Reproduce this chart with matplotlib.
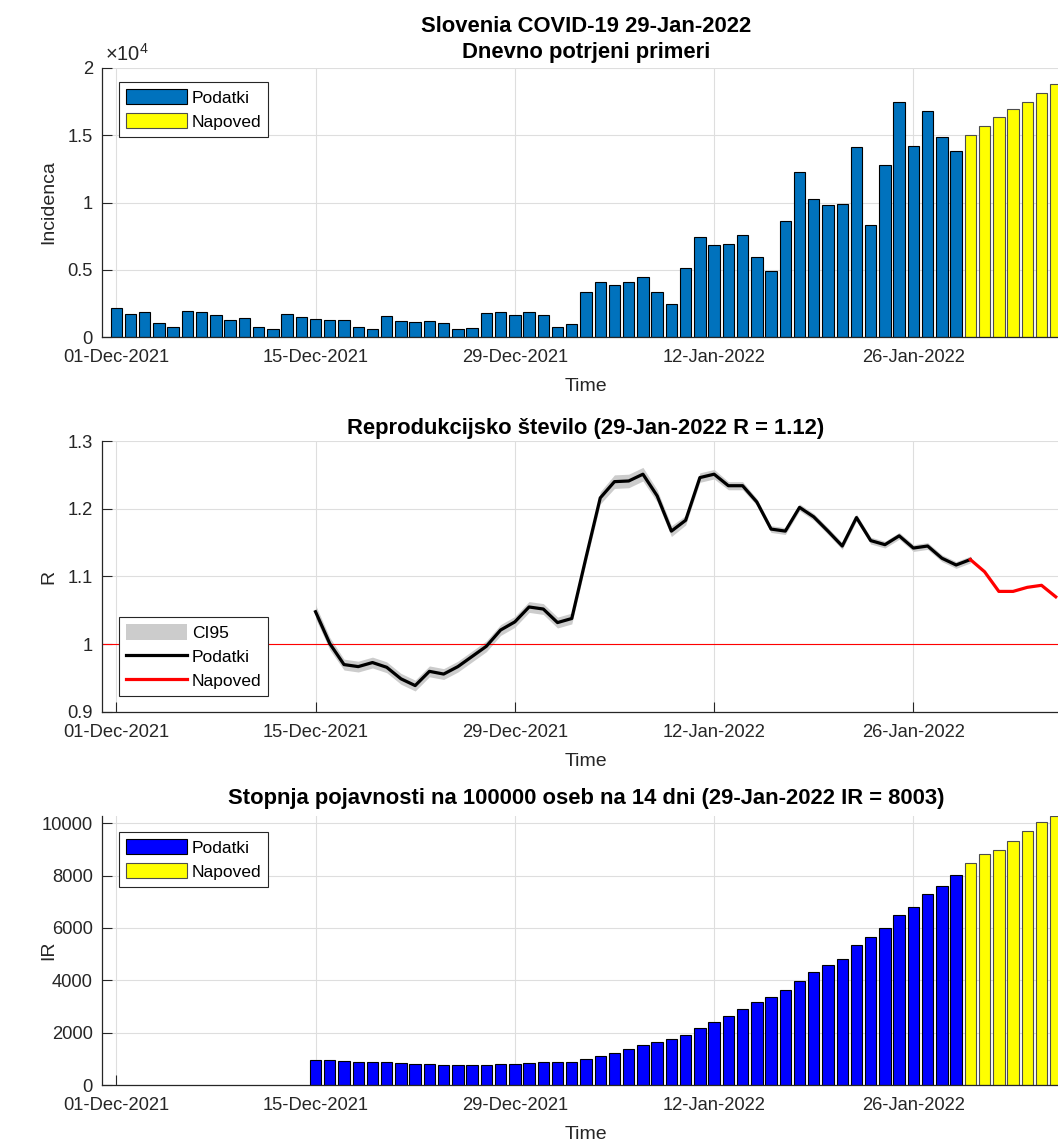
import numpy as np
import matplotlib
matplotlib.use("Agg")
import matplotlib.pyplot as plt
import matplotlib.dates as mdates
from matplotlib.patches import Patch
from matplotlib.lines import Line2D
from matplotlib.ticker import FuncFormatter, FixedLocator

plt.rcParams['font.family'] = ['Liberation Sans', 'DejaVu Sans']
plt.rcParams['mathtext.fontset'] = 'custom'
plt.rcParams['mathtext.rm'] = 'Liberation Sans'

# ---------------- data ----------------
inc_start = '2021-12-01'
inc_data = [2160, 1710, 1860, 1040, 770, 1930, 1860, 1640, 1260, 1410,
            770, 620, 1710, 1490, 1340, 1260, 1260, 770, 570, 1560,
            1190, 1120, 1190, 1040, 620, 690, 1780, 1860, 1640, 1860,
            1640, 770, 970, 3350, 4060, 3840, 4060, 4490, 3350, 2480,
            5130, 7410, 6840, 6910, 7560, 5970, 4910, 8620, 12240, 10260,
            9840, 9910, 14130, 8350, 12760, 17470, 14200, 16830, 14840, 13850]
inc_fore_start = '2022-01-30'
inc_fore = [15040, 15690, 16330, 16930, 17470, 18120, 18840]

r_start = '2021-12-15'
r_data = [1.048, 1.001, 0.970, 0.967, 0.973, 0.966, 0.949, 0.939, 0.960, 0.956,
          0.967, 0.982, 0.997, 1.021, 1.033, 1.055, 1.052, 1.032, 1.038, 1.128,
          1.216, 1.240, 1.241, 1.251, 1.219, 1.167, 1.183, 1.246, 1.251, 1.234,
          1.234, 1.210, 1.170, 1.167, 1.202, 1.188, 1.167, 1.145, 1.187, 1.153,
          1.147, 1.160, 1.142, 1.145, 1.127, 1.117, 1.125]
r_ci_half = [0.010, 0.009, 0.008, 0.008, 0.008, 0.008,
             0.008, 0.008, 0.008, 0.008, 0.008, 0.008, 0.008, 0.008, 0.008, 0.008, 0.008, 0.008, 0.008,
             0.008, 0.009, 0.010, 0.010, 0.010, 0.009,
             0.008, 0.007, 0.007, 0.007, 0.006, 0.006,
             0.005, 0.005, 0.005, 0.005, 0.005, 0.005, 0.005, 0.005,
             0.005, 0.005, 0.005, 0.005, 0.005, 0.005, 0.005, 0.005]
r_fore_start = '2022-01-30'
r_fore = [1.125, 1.107, 1.078, 1.078, 1.084, 1.087, 1.070]

ir_start = '2021-12-15'
ir_data = [952, 952, 902, 863, 863, 863, 825, 800, 800, 762,
           762, 762, 762, 800, 800, 838, 876, 876, 870, 990,
           1092, 1232, 1359, 1537, 1638, 1752, 1905, 2159, 2413, 2629,
           2921, 3187, 3365, 3619, 3987, 4317, 4571, 4825, 5333, 5638,
           5994, 6476, 6794, 7276, 7606, 8003]
ir_fore_start = '2022-01-30'
ir_fore = [8483, 8813, 8990, 9321, 9689, 10057, 10273]

xtick_dates = ['2021-12-01', '2021-12-15', '2021-12-29', '2022-01-12', '2022-01-26']
x_lim = ['2021-11-30', '2022-02-06']

title_top = 'Slovenia COVID-19 29-Jan-2022\nDnevno potrjeni primeri'
title_r = 'Reprodukcijsko število (29-Jan-2022 R = 1.12)'
title_ir = 'Stopnja pojavnosti na 100000 oseb na 14 dni (29-Jan-2022 IR = 8003)'


def days(start, n):
    return np.datetime64(start) + np.arange(n).astype('timedelta64[D]')


# ---------------- figure ----------------
W, H = 1058, 1144
fig = plt.figure(figsize=(W / 100, H / 100), dpi=100)

axL, axR = 102, 1070


def make_ax(top, bottom):
    return fig.add_axes([axL / W, 1 - bottom / H, (axR - axL) / W, (bottom - top) / H])


ax1 = make_ax(68, 337)
ax2 = make_ax(441, 712)
ax3 = make_ax(816, 1085)

DARK = '0.15'
TICK_FS = 13.2
LAB_FS = 14
TITLE_FS = 15.8
LEG_FS = 12.5
MBLUE = (0, 0.447, 0.741)


def style(ax):
    for s in ['top', 'right']:
        ax.spines[s].set_visible(False)
    for s in ['left', 'bottom']:
        ax.spines[s].set_color(DARK)
        ax.spines[s].set_linewidth(0.9)
    ax.tick_params(direction='in', length=7, width=0.8, colors=DARK,
                   labelsize=TICK_FS, labelcolor=DARK)
    ax.tick_params(axis='x', pad=8.5)
    ax.tick_params(axis='y', pad=6.5)
    ax.grid(True, color='#dedede', linewidth=0.8)
    ax.set_axisbelow(True)
    ax.set_xlim(np.datetime64(x_lim[0]), np.datetime64(x_lim[1]))
    ax.xaxis.set_major_locator(FixedLocator(mdates.date2num(np.array(xtick_dates, dtype='datetime64[D]'))))
    ax.xaxis.set_major_formatter(mdates.DateFormatter('%d-%b-%Y'))
    ax.set_xlabel('Time', fontsize=LAB_FS, color=DARK, labelpad=9)
    ax.yaxis.set_label_coords(-0.046, 0.5)


def legend(ax, handles, labels, loc, anchor):
    lg = ax.legend(handles, labels, loc=loc, bbox_to_anchor=anchor, borderaxespad=0,
                   fontsize=LEG_FS, handlelength=3.5, handleheight=1.0, handletextpad=0.3,
                   labelspacing=0.42, borderpad=0.4, fancybox=False, framealpha=1)
    lg.get_frame().set_edgecolor(DARK)
    lg.get_frame().set_linewidth(0.8)
    return lg


# --- top: daily incidence
style(ax1)
ax1.bar(days(inc_start, len(inc_data)), inc_data, width=0.8, color=MBLUE,
        edgecolor='black', linewidth=0.8, label='Podatki')
ax1.bar(days(inc_fore_start, len(inc_fore)), inc_fore, width=0.8, color='yellow',
        edgecolor='0.3', linewidth=0.8, label='Napoved')
ax1.set_ylim(0, 20000)
ax1.set_yticks([0, 5000, 10000, 15000, 20000])
ax1.yaxis.set_major_formatter(FuncFormatter(lambda v, p: f'{v / 1e4:g}'))
ax1.text(0.003, 1.012, '×10$^{4}$', transform=ax1.transAxes, ha='left', va='bottom',
         fontsize=14.5, color=DARK)
ax1.set_ylabel('Incidenca', fontsize=LAB_FS, color=DARK)
ax1.set_title(title_top, fontsize=TITLE_FS, fontweight='bold', pad=7, linespacing=1.32)
legend(ax1, [Patch(facecolor=MBLUE, edgecolor='black', linewidth=0.8),
             Patch(facecolor='yellow', edgecolor='0.3', linewidth=0.8)],
       ['Podatki', 'Napoved'], 'upper left', (17 / 968, 1 - 14 / 269))

# --- middle: R
style(ax2)
rd = days(r_start, len(r_data))
r_arr = np.array(r_data)
ci = np.array(r_ci_half)
ax2.fill_between(rd, r_arr - ci, r_arr + ci, color=(0.8, 0.8, 0.8), linewidth=0)
ax2.axhline(1.0, color='red', linewidth=0.8)
ax2.plot(rd, r_arr, color='black', linewidth=2.3)
ax2.plot(days(r_fore_start, len(r_fore)), r_fore, color='red', linewidth=2.3)
ax2.set_ylim(0.9, 1.3)
ax2.set_yticks([0.9, 1.0, 1.1, 1.2, 1.3])
ax2.yaxis.set_major_formatter(FuncFormatter(lambda v, p: f'{v:g}'))
ax2.set_ylabel('R', fontsize=LAB_FS, color=DARK)
ax2.set_title(title_r, fontsize=TITLE_FS, fontweight='bold', pad=5)
legend(ax2, [Patch(facecolor=(0.8, 0.8, 0.8), edgecolor='none'),
             Line2D([], [], color='black', linewidth=2.3),
             Line2D([], [], color='red', linewidth=2.3)],
       ['CI95', 'Podatki', 'Napoved'], 'lower left', (17 / 968, 16 / 271))

# --- bottom: IR
style(ax3)
ax3.bar(days(ir_start, len(ir_data)), ir_data, width=0.8, color='blue',
        edgecolor='black', linewidth=0.8)
ax3.bar(days(ir_fore_start, len(ir_fore)), ir_fore, width=0.8, color='yellow',
        edgecolor='0.3', linewidth=0.8)
ax3.set_ylim(0, max(ir_fore))
ax3.set_yticks([0, 2000, 4000, 6000, 8000, 10000])
ax3.yaxis.set_major_formatter(FuncFormatter(lambda v, p: f'{v:g}'))
ax3.set_ylabel('IR', fontsize=LAB_FS, color=DARK)
ax3.set_title(title_ir, fontsize=TITLE_FS, fontweight='bold', pad=8.5)
legend(ax3, [Patch(facecolor='blue', edgecolor='black', linewidth=0.8),
             Patch(facecolor='yellow', edgecolor='0.3', linewidth=0.8)],
       ['Podatki', 'Napoved'], 'upper left', (17 / 968, 1 - 16 / 269))

fig.savefig('out.png', dpi=100)
